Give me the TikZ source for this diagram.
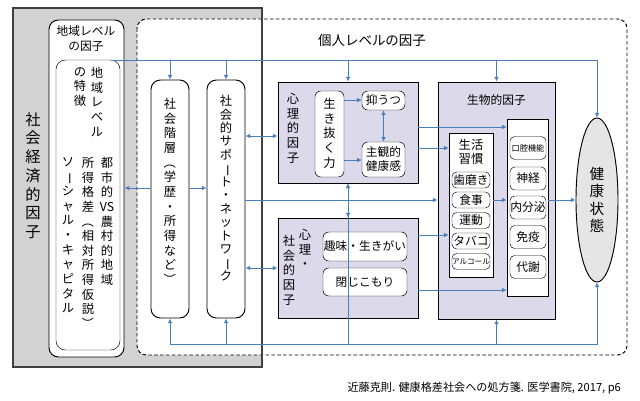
\documentclass[tikz,border=0pt]{standalone}
\usepackage{fontspec}
\setmainfont{Noto Sans CJK JP}
\usetikzlibrary{arrows.meta,shapes.geometric}
\usepackage{graphicx}
\newcommand{\vbar}{\rotatebox[origin=c]{-90}{ー}}
\newcommand{\vpl}{\rotatebox[origin=c]{-90}{（}}
\newcommand{\vpr}{\rotatebox[origin=c]{-90}{）}}
\definecolor{linkblue}{HTML}{4A7EBB}
\definecolor{lav}{HTML}{DCDAEA}
\tikzset{
  arr/.style={linkblue,thick,-{Latex[length=4pt,width=4pt]}},
  darr/.style={linkblue,thick,{Latex[length=4pt,width=4pt]}-{Latex[length=4pt,width=4pt]}},
  pane/.style={draw,thick,fill=lav,inner sep=0pt},
  rbox/.style={draw,fill=white,rounded corners=5pt,inner sep=0pt},
  tate/.style={align=center,inner sep=0pt,font=\fontsize{10.5}{12.5}\selectfont},
  small/.style={font=\fontsize{10}{12}\selectfont}
}
\begin{document}
\begin{tikzpicture}[x=0.03cm,y=-0.03cm]
\useasboundingbox (0,0) rectangle (640,401);
% background boxes
\fill[gray!35] (13,8) rectangle (262,367);
\draw[densely dashed,thick,fill=white,rounded corners=8pt] (137,19) rectangle (627,355);
\draw[very thick,black!75] (13,8) rectangle (262,367);
\node[tate,font=\fontsize{13}{16}\selectfont,anchor=north] (sef) at (33,112) {社\\会\\経\\済\\的\\因\\子};
\node[small,align=center] (ttl) at (372,40) {\fontsize{11.5}{13}\selectfont 個人レベルの因子};
% region level
\node[rbox,thick,minimum width=75*0.03cm,minimum height=337*0.03cm,rounded corners=8pt] (rg) at (86.5,188.5) {};
\node[small,align=center,anchor=north] (rgt) at (86,22) {地域レベル\\の因子};
\node[rbox,minimum width=64*0.03cm,minimum height=290*0.03cm,rounded corners=8pt] (rgin) at (88,205) {};
\node[tate,anchor=north] (rg1) at (97,67) {地\\域\\レ\\ベ\\ル};
\node[tate,anchor=north] (rg2) at (80,67) {の\\特\\徴};
\node[tate,anchor=north] (rg3) at (107,157) {都\\市\\的\\VS\\農\\村\\的\\地\\域};
\node[tate,anchor=north] (rg4) at (88,157) {所\\得\\格\\差\\\vpl\\相\\対\\所\\得\\仮\\説\\\vpr};
\node[tate,anchor=north] (rg5) at (68,157) {ソ\\\vbar\\シ\\ャ\\ル\\・\\キ\\ャ\\ピ\\タ\\ル};
% social
\node[rbox,thick,minimum width=38*0.03cm,minimum height=238*0.03cm,rounded corners=8pt] (sh) at (170,199) {};
\node[tate,anchor=north] (sht) at (170,98) {社\\会\\階\\層\\\vpl\\学\\歴\\・\\所\\得\\な\\ど\\\vpr};
\node[rbox,thick,minimum width=38*0.03cm,minimum height=238*0.03cm,rounded corners=8pt] (ss) at (226,199) {};
\node[tate,font=\fontsize{10.5}{11.5}\selectfont,anchor=north] (sst) at (226,95) {社\\会\\的\\サ\\ポ\\\vbar\\ト\\・\\ネ\\ッ\\ト\\ワ\\\vbar\\ク};
% psychological
\node[pane,minimum width=140*0.03cm,minimum height=101*0.03cm] (psy) at (348,132.5) {};
\node[tate,anchor=north] (psyt) at (293,93) {心\\理\\的\\因\\子};
\node[rbox,minimum width=29*0.03cm,minimum height=86*0.03cm] (ikiru) at (329.5,134) {};
\node[tate,anchor=north] (ikirut) at (329.5,98) {生\\き\\抜\\く\\力};
\node[rbox,minimum width=43*0.03cm,minimum height=19*0.03cm,small] (yoku) at (383.5,100.5) {抑うつ};
\node[rbox,minimum width=43*0.03cm,minimum height=35*0.03cm,small,align=center] (shukan) at (383.5,159.5) {主観的\\健康感};
% psychosocial
\node[pane,minimum width=140*0.03cm,minimum height=100*0.03cm] (psoc) at (348,268) {};
\node[tate,anchor=north] (psoct1) at (305,229) {心\\理\\・};
\node[tate,anchor=north] (psoct2) at (289,235) {社\\会\\的\\因\\子};
\node[rbox,minimum width=84*0.03cm,minimum height=29*0.03cm,small] (shumi) at (365,246.5) {趣味・生きがい};
\node[rbox,minimum width=84*0.03cm,minimum height=28*0.03cm,small] (toji) at (365,282) {閉じこもり};
% biological
\node[pane,minimum width=117*0.03cm,minimum height=237*0.03cm] (bio) at (496.5,200.5) {};
\node[small] (biot) at (496.5,100) {生物的因子};
\node[draw,fill=white,minimum width=44*0.03cm,minimum height=144*0.03cm,inner sep=0pt] (life) at (471,205) {};
\node[small,align=center,font=\fontsize{10.5}{12}\selectfont,anchor=north] (lifet) at (471,135) {生活\\習慣};
\foreach \t/\yy/\n in {歯磨き/180/a,食事/200/b,運動/220.5/c,タバコ/241/d} {
  \node[rbox,rounded corners=4pt,minimum width=38*0.03cm,minimum height=16*0.03cm,small] (hab\n) at (471,\yy) {\t};
}
\node[rbox,rounded corners=4pt,minimum width=38*0.03cm,minimum height=16*0.03cm,font=\fontsize{6.5}{7}\selectfont] (habe) at (471,261.5) {アルコール};
\node[draw,fill=white,minimum width=41*0.03cm,minimum height=177*0.03cm,inner sep=0pt] (organ) at (527.5,207.5) {};
\foreach \t/\yy/\n in {神経/178.5/b,内分泌/207.5/c,免疫/237/d,代謝/267/e} {
  \node[rbox,rounded corners=4pt,minimum width=36*0.03cm,minimum height=23*0.03cm,small] (org\n) at (528,\yy) {\t};
}
\node[rbox,rounded corners=4pt,minimum width=36*0.03cm,minimum height=23*0.03cm,font=\fontsize{7}{8}\selectfont] (orga) at (528,148) {口腔機能};
\node[ellipse,draw,thick,fill=gray!20,minimum width=42*0.03cm,minimum height=164*0.03cm,inner sep=0pt] (ell) at (597,200) {};
\node[tate,font=\fontsize{12.5}{15}\selectfont] (ellt) at (597,200) {健\\康\\状\\態};
% helper coordinates
\coordinate (top) at (112,60);
\coordinate (bot) at (170,344);
\coordinate (y100) at (0,100);
\coordinate (y127) at (0,127);
\coordinate (y136) at (0,136);
\coordinate (y148) at (0,148);
\coordinate (y160) at (0,160);
\coordinate (y188) at (0,188);
\coordinate (y235) at (0,235);
\coordinate (y268) at (0,268);
\coordinate (y290) at (0,290);
% trunks
\draw[arr] (top) -| (ell.north);
\draw[arr] (bot) -| (ell.south);
\foreach \n in {sh,ss,psy,bio} {
  \draw[arr] (\n.north|-top) -- (\n.north);
  \draw[arr] (\n.south|-bot) -- (\n.south);
}
% connectors
\draw[arr] (sh.west|-y188) -- (rg.east|-y188);
\draw[arr] (sh.east|-y188) -- (ss.west|-y188);
\draw[darr] (ss.east|-y136) -- (psy.west|-y136);
\draw[darr] (ss.east|-y268) -- (psoc.west|-y268);
\draw[arr] (ss.east|-ell) -- (bio.west|-ell);
\draw[darr] (psy.south) -- (psoc.north);
\draw[arr] (ikiru.east|-y100) -- (yoku.west|-y100);
\draw[arr] (ikiru.east|-y160) -- (shukan.west|-y160);
\draw[darr] (yoku.south) -- (shukan.north);
\draw[arr] (psy.east|-y127) -- (organ.west|-y127);
\draw[arr] (psy.east|-y148) -- (life.west|-y148);
\draw[arr] (psoc.east|-y235) -- (life.west|-y235);
\draw[arr] (psoc.east|-y290) -- (organ.west|-y290);
\draw[arr] (life.east|-ell) -- (organ.west|-ell);
\draw[arr] (organ.east|-ell) -- (ell.west);
% source
\node[anchor=east,font=\fontsize{9.5}{11}\selectfont] (src) at (625,388) {近藤克則. 健康格差社会への処方箋. 医学書院, 2017, p6};
\end{tikzpicture}
\end{document}
